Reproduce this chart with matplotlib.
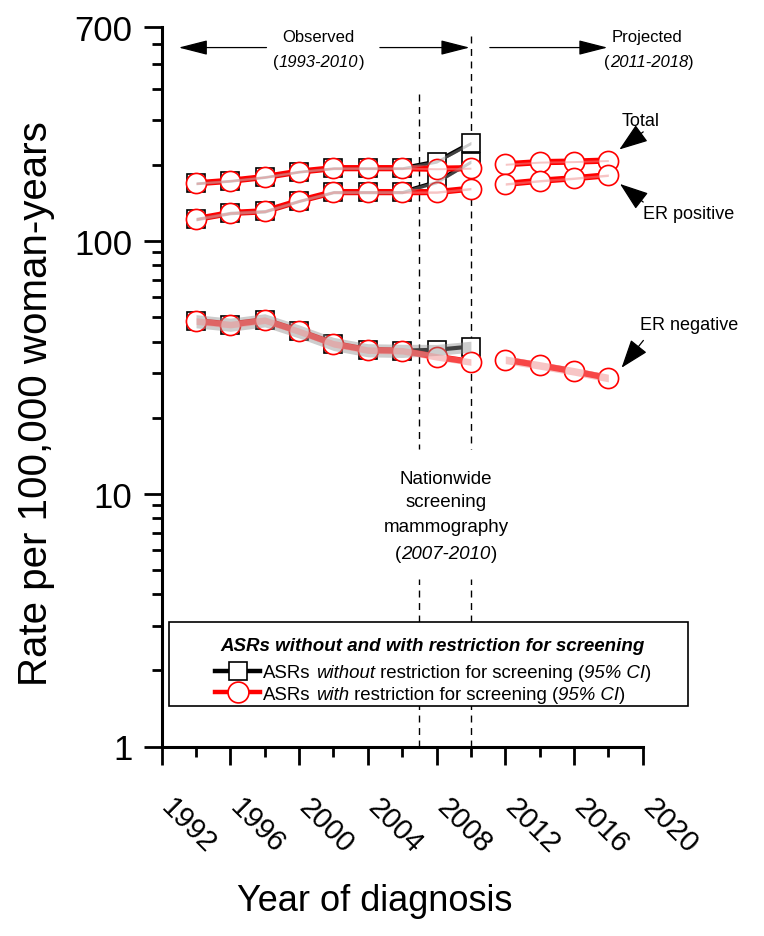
import numpy as np
import matplotlib
matplotlib.use('Agg')
import matplotlib.pyplot as plt
import matplotlib.ticker as mticker
from matplotlib.transforms import IdentityTransform, ScaledTranslation
from matplotlib.lines import Line2D
from matplotlib.patches import Rectangle

plt.rcParams['font.family'] = ['Liberation Sans', 'DejaVu Sans']

# observed years (2-year periods) and projected years
years_obs = [1994, 1996, 1998, 2000, 2002, 2004, 2006, 2008, 2010]
years_proj = [2012, 2014, 2016, 2018]

# ASRs without restriction for screening
total_wo = [169, 173, 179, 188, 194, 194, 194, 206, 244]
erpos_wo = [122, 129, 131, 144, 156, 156, 156, 171, 206]
erneg_wo = [48.2, 46.7, 48.6, 43.9, 39.2, 37.0, 36.8, 37.1, 38.2]

# ASRs with restriction for screening
total_w = [169, 173, 179, 188, 194, 194, 194, 193, 194]
erpos_w = [122, 129, 131, 144, 156, 156, 156, 156, 161]
erneg_w = [48.2, 46.7, 48.6, 43.9, 39.2, 37.0, 36.8, 34.8, 33.2]

# projections (with restriction)
total_p = [201, 205, 206, 208]
erpos_p = [168, 173, 177, 182]
erneg_p = [33.9, 32.2, 30.5, 28.7]

# 95% CI half-widths, percent
ci_total_wo = [1.3, 1.3, 1.3, 1.3, 1.3, 1.3, 1.3, 1.4, 1.5]
ci_erpos_wo = [1.6, 1.6, 1.6, 1.5, 1.5, 1.5, 1.5, 1.6, 1.6]
ci_erneg_wo = [6, 6, 6, 6, 6, 6, 6, 5, 5]
ci_total_w = [0.9, 0.9, 0.9, 0.9, 0.9, 0.9, 0.9, 0.9, 0.9]
ci_erpos_w = [1.1, 1.1, 1.1, 1.1, 1.1, 1.1, 1.1, 1.1, 1.1]
ci_erneg_w = [3, 3, 3, 3, 3, 3, 3, 3, 3]
ci_total_p = [0.9, 0.9, 0.9, 0.9]
ci_erpos_p = [1.1, 1.1, 1.1, 1.1]
ci_erneg_p = [3.5, 3.5, 3.5, 3.5]

xticks = [1992, 1996, 2000, 2004, 2008, 2012, 2016, 2020]
yticks = [1, 10, 100, 700]
ytick_labels = ['1', '10', '100', '700']
screening_years = [2007, 2010]

W, H = 764, 937
fig = plt.figure(figsize=(W / 100, H / 100), dpi=100)
ax = fig.add_axes([161.7 / W, 1 - 747.5 / H, (642.7 - 161.7) / W, (747.5 - 28.3) / H])
renderer = fig.canvas.get_renderer()


def series(x, y, ci, color, band, alpha, marker, ms, lw, z):
    x = np.array(x, dtype=float)
    y = np.array(y, dtype=float)
    ci = np.array(ci) / 100.0
    ax.plot(x, y, color=color, lw=lw, zorder=z, solid_capstyle='butt')
    ax.plot(x, y, ls='none', marker=marker, ms=ms, mfc='white', mec=color,
            mew=1.2, zorder=z + 0.5)
    ax.fill_between(x, y * (1 - ci), y * (1 + ci), color=band, alpha=alpha,
                    lw=0, zorder=z + 6)


for vals, ci in [(total_wo, ci_total_wo), (erpos_wo, ci_erpos_wo), (erneg_wo, ci_erneg_wo)]:
    series(years_obs, vals, ci, 'black', '#909090', 0.45, 's', 12.5, 3.0, 2)
for vals, ci in [(total_w, ci_total_w), (erpos_w, ci_erpos_w), (erneg_w, ci_erneg_w)]:
    series(years_obs, vals, ci, '#ff0000', '#f08c8c', 0.5, 'o', 14.5, 4.5, 4)
for vals, ci in [(total_p, ci_total_p), (erpos_p, ci_erpos_p), (erneg_p, ci_erneg_p)]:
    series(years_proj, vals, ci, '#ff0000', '#f08c8c', 0.5, 'o', 14.5, 4.5, 4)

# dashed lines for the screening period
ax.vlines(screening_years[0], 382, 15.0, colors='k', lw=1.0, linestyles=(0, (5, 4)), zorder=1)
ax.vlines(screening_years[1], 649, 15.0, colors='k', lw=1.0, linestyles=(0, (5, 4)), zorder=1)
ax.vlines(screening_years, 1, 4.6, colors='k', lw=1.0, linestyles=(0, (5, 4)), zorder=1)

# axes
ax.set_yscale('log')
ax.set_ylim(1, 700)
ax.set_xlim(1992, 2020)
ax.set_yticks(yticks)
ax.set_yticklabels(ytick_labels)
ax.yaxis.set_minor_locator(mticker.LogLocator(base=10, subs=np.arange(2, 10), numticks=20))
ax.yaxis.set_minor_formatter(mticker.NullFormatter())
ax.set_xticks(xticks)
ax.set_xticklabels([str(t) for t in xticks], rotation=-45, ha='left', va='top',
                   rotation_mode='anchor')
ax.xaxis.set_minor_locator(mticker.MultipleLocator(2))
ax.tick_params(axis='both', which='major', direction='out', length=13, width=2)
ax.tick_params(axis='both', which='minor', direction='out', length=7, width=2)
ax.tick_params(axis='y', which='major', labelsize=25, pad=8)
ax.tick_params(axis='x', which='major', labelsize=21, pad=20)
shift = ScaledTranslation(14 / 100, 0, fig.dpi_scale_trans)
for lab in ax.get_xticklabels():
    lab.set_transform(lab.get_transform() + shift)
for s in ['top', 'right']:
    ax.spines[s].set_visible(False)
for s in ['left', 'bottom']:
    ax.spines[s].set_linewidth(2.2)

ax.set_ylabel('Rate per 100,000 woman-years', fontsize=29)
ax.yaxis.set_label_coords(-0.222, 0.4776)
ax.set_xlabel('Year of diagnosis', fontsize=26)
ax.xaxis.set_label_coords(0.4435, -0.19)


def arrow(x0, y0, x1, y1, hl, hw):
    ax.annotate('', xy=(x1, y1), xytext=(x0, y0), annotation_clip=False,
                arrowprops=dict(arrowstyle=f'-|>,head_length={hl},head_width={hw}',
                                color='k', lw=0.9, shrinkA=0, shrinkB=0,
                                mutation_scale=20))


arrow(1998.1, 582, 1992.99, 582, 0.9, 0.23)
arrow(2004.7, 582, 2009.92, 582, 0.9, 0.23)
arrow(2011.1, 582, 2017.95, 582, 0.9, 0.23)
arrow(2020.03, 270, 2018.64, 230, 0.9, 0.32)
arrow(2020.03, 142.5, 2018.68, 168, 0.9, 0.32)
arrow(2020.04, 40.4, 2018.77, 31.5, 0.9, 0.32)

ax.text(2018.8, 299, 'Total', fontsize=13, va='center', ha='left', clip_on=False)
ax.text(2020.0, 128, 'ER positive', fontsize=13, va='center', ha='left', clip_on=False)
ax.text(2019.85, 46.5, 'ER negative', fontsize=13, va='center', ha='left', clip_on=False)

SP = 0.278  # width of a space in em


def row(x, y, pieces, size, ha='left', weight='normal'):
    # pieces: (text, italic, underline); y is the baseline in image pixels (from top)
    items = []
    for s, it, ul in pieces:
        t = fig.text(0, 0, s.rstrip(), fontsize=size, fontweight=weight,
                     fontstyle='italic' if it else 'normal',
                     transform=IdentityTransform(), ha='left', va='baseline')
        w = t.get_window_extent(renderer).width
        adv = w + (len(s) - len(s.rstrip())) * SP * size * 100 / 72
        items.append((t, w, adv, ul))
    total = sum(i[2] for i in items)
    x0 = x - total / 2 if ha == 'center' else x
    for t, w, adv, ul in items:
        t.set_position((x0, H - y))
        if ul:
            fig.add_artist(Line2D([x0, x0 + w], [H - y - 2.5] * 2,
                                  transform=IdentityTransform(), color='k', lw=1))
        x0 += adv


# top annotations
fig.text(318.7, H - 38, 'Observed', fontsize=12, ha='center', va='center',
         transform=IdentityTransform())
row(318.7, 67, [('(', False, False), ('1993-2010', True, False), (')', False, False)], 12, ha='center')
fig.text(647, H - 38, 'Projected', fontsize=12, ha='center', va='center',
         transform=IdentityTransform())
row(649, 67, [('(', False, False), ('2011-2018', True, False), (')', False, False)], 12, ha='center')

# screening text
for txt, yy in [('Nationwide', 480), ('screening', 503), ('mammography', 528)]:
    fig.text(446, H - yy, txt, fontsize=13.5, ha='center', va='center',
             transform=IdentityTransform())
row(446, 559, [('(', False, False), ('2007-2010', True, False), (')', False, False)], 13.5, ha='center')

# legend
fig.add_artist(Rectangle((169.3, H - 706.7), 688 - 169.3, 706.7 - 622.7,
                         transform=IdentityTransform(), facecolor='white',
                         edgecolor='k', lw=1.2, zorder=10))
fig.text(432.5, H - 646.7, 'ASRs without and with restriction for screening',
         fontsize=13.5, fontweight='bold', fontstyle='italic', ha='center',
         va='center', transform=IdentityTransform())
for yy, col, mk, ms, word in [(671.7, 'black', 's', 13, 'without'),
                              (693.3, '#ff0000', 'o', 15, 'with')]:
    fig.add_artist(Line2D([215, 260], [H - yy] * 2, transform=IdentityTransform(),
                          color=col, lw=3.2, zorder=11))
    fig.add_artist(Line2D([237.5], [H - yy], transform=IdentityTransform(), ls='none',
                          marker=mk, ms=ms, mfc='white', mec=col, mew=1.2, zorder=12))
    row(263.3, yy + 6.5, [('ASRs ', False, False), (word, True, True),
                          (' restriction for screening (', False, False),
                          ('95% CI', True, False), (')', False, False)], 13.4)

for t in fig.texts:
    t.set_zorder(13)

fig.savefig('out.png', dpi=100)
